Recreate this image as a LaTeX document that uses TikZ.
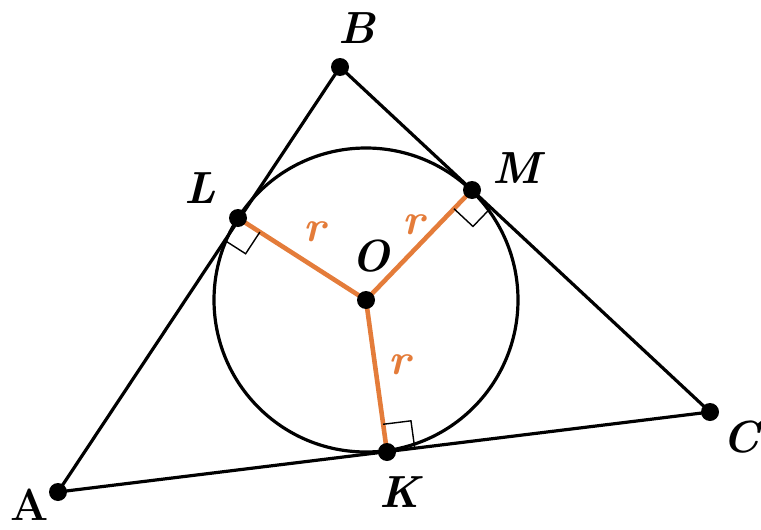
\documentclass[tikz,border=0pt]{standalone}
\usetikzlibrary{calc}
\definecolor{rad}{RGB}{228,124,58}
\begin{document}
\begin{tikzpicture}[x=1pt,y=-1pt,
  edge/.style={line width=3.2pt,black},
  radius line/.style={line width=4.6pt,rad},
  rmark/.style={line width=1.4pt,black},
  dotpt/.style={circle,fill=black,inner sep=0pt,minimum size=18pt},
  lab/.style={font=\fontsize{45}{54}\selectfont\bfseries\itshape,inner sep=0pt},
  rlab/.style={font=\fontsize{44}{52}\selectfont\bfseries\itshape,text=rad,inner sep=0pt}]
\useasboundingbox (0,0) rectangle (761,530);
\coordinate (A) at (58,492);
\coordinate (B) at (340,67);
\coordinate (C) at (710,412);
\coordinate (L) at (238,218);
\coordinate (M) at (472,190);
\coordinate (K) at (387,452);
\coordinate (O) at (366,300);
% triangle and circle
\draw[edge] (A) -- (B) -- (C) -- cycle;
\draw[edge] (O) circle[radius=152];
% radii
\draw[radius line] (O) -- (L);
\draw[radius line] (O) -- (M);
\draw[radius line] (O) -- (K);
% right-angle marks
\coordinate (L1) at ($(L)!26pt!(A)$);
\coordinate (L2) at ($(L)!26pt!(O)$);
\draw[rmark] (L1) -- ($(L1)+(L2)-(L)$) -- (L2);
\coordinate (M1) at ($(M)!26pt!(C)$);
\coordinate (M2) at ($(M)!26pt!(O)$);
\draw[rmark] (M1) -- ($(M1)+(M2)-(M)$) -- (M2);
\coordinate (K1) at ($(K)!28pt!(C)$);
\coordinate (K2) at ($(K)!28pt!(O)$);
\draw[rmark] (K1) -- ($(K1)+(K2)-(K)$) -- (K2);
% points
\foreach \p in {A,B,C,L,M,K,O} \node[dotpt] (d\p) at (\p) {};
% labels
\node[lab,font=\fontsize{45}{54}\selectfont\bfseries] (lA) at (30,505) {A};
\node[lab] (lB) at (357,28) {B};
\node[lab] (lC) at (741,437) {C};
\node[lab] (lL) at (200,188) {L};
\node[lab] (lM) at (517,168) {M};
\node[lab] (lK) at (400,492) {K};
\node[lab] (lO) at (371,256) {O};
\node[rlab] (r1) at (315,232) {r};
\node[rlab] (r2) at (414,225) {r};
\node[rlab] (r3) at (400,365) {r};
\end{tikzpicture}
\end{document}
